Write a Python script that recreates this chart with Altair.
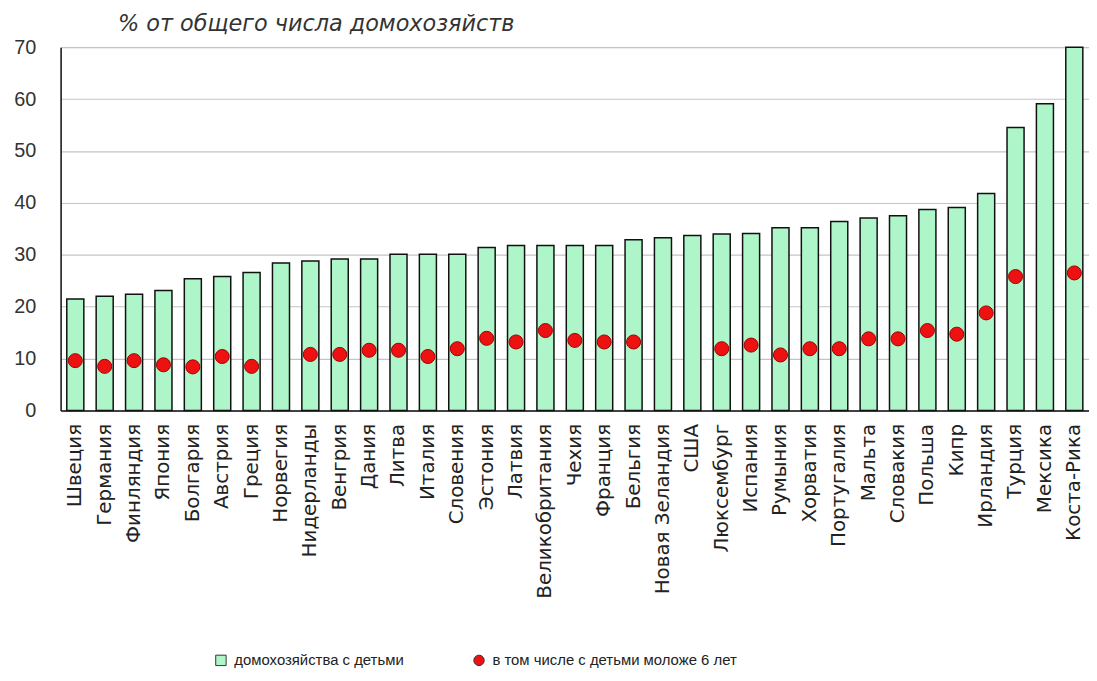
import altair as alt
import pandas as pd

countries = ["Швеция", "Германия", "Финляндия", "Япония", "Болгария", "Австрия", "Греция",
             "Норвегия", "Нидерланды", "Венгрия", "Дания", "Литва", "Италия", "Словения",
             "Эстония", "Латвия", "Великобритания", "Чехия", "Франция", "Бельгия",
             "Новая Зеландия", "США", "Люксембург", "Испания", "Румыния", "Хорватия",
             "Португалия", "Мальта", "Словакия", "Польша", "Кипр", "Ирландия", "Турция",
             "Мексика", "Коста-Рика"]

with_children = [21.5, 22.0, 22.4, 23.1, 25.4, 25.8, 26.6,
                 28.4, 28.8, 29.2, 29.2, 30.1, 30.1, 30.1,
                 31.4, 31.8, 31.8, 31.8, 31.8, 32.9,
                 33.3, 33.7, 34.0, 34.1, 35.2, 35.2,
                 36.4, 37.1, 37.5, 38.7, 39.1, 41.8, 54.5,
                 59.1, 70.0]

under_six = [9.6, 8.5, 9.6, 8.8, 8.4, 10.4, 8.5,
             None, 10.8, 10.8, 11.6, 11.6, 10.4, 11.9,
             13.9, 13.2, 15.4, 13.5, 13.2, 13.2,
             None, None, 11.9, 12.6, 10.7, 11.9,
             11.9, 13.8, 13.8, 15.4, 14.7, 18.8, 25.8,
             None, 26.5]

series_names = ["домохозяйства с детьми", "в том числе с детьми моложе 6 лет"]
y_ticks = [0, 10, 20, 30, 40, 50, 60, 70]

bars_df = pd.DataFrame({"country": countries, "value": with_children, "series": series_names[0]})
dots_df = pd.DataFrame([
    {"country": c, "value": v, "series": series_names[1]}
    for c, v in zip(countries, under_six) if v is not None
])

color_scale = alt.Scale(domain=series_names, range=["#aef5c9", "#ee1111"])
shape_scale = alt.Scale(domain=series_names, range=["square", "circle"])

x_enc = alt.X("country:N", sort=countries, title=None,
              scale=alt.Scale(paddingInner=0.42, paddingOuter=0.21),
              axis=alt.Axis(labelAngle=-90, labelFont="DejaVu Sans", labelFontSize=20,
                            labelColor="#222", labelPadding=13, ticks=False,
                            domainColor="#111", domainWidth=1.5, grid=False,
                            labelOverlap=False))
y_enc = alt.Y("value:Q", title=None,
              scale=alt.Scale(domain=[0, 70], nice=False),
              axis=alt.Axis(values=y_ticks, labelFont="Liberation Sans", labelFontSize=20,
                            labelColor="#333", labelPadding=25, ticks=False,
                            domainColor="#111", domainWidth=1.5,
                            grid=True, gridColor="#c4c4c4", gridWidth=1.2))

legend = alt.Legend(title=None, orient="none", legendX=154, legendY=610,
                    direction="horizontal", columns=2, columnPadding=68,
                    labelFont="Liberation Sans", labelFontSize=15, labelColor="#222",
                    labelLimit=0, symbolSize=110, labelOffset=6,
                    symbolStrokeColor="#333", symbolStrokeWidth=1)

bars = alt.Chart(bars_df).mark_bar(stroke="#111", strokeWidth=1.5).encode(
    x=x_enc, y=y_enc,
    color=alt.Color("series:N", scale=color_scale, legend=legend),
)

dots = alt.Chart(dots_df).mark_point(filled=True, size=200, opacity=1,
                                     stroke="#a00000", strokeWidth=1).encode(
    x=x_enc, y=y_enc,
    color=alt.Color("series:N", scale=color_scale, legend=legend),
    shape=alt.Shape("series:N", scale=shape_scale, legend=legend),
)

chart = alt.layer(bars, dots).properties(
    width=1036, height=366,
    padding={"left": 5, "top": 2, "right": 0, "bottom": 0},
    title=alt.TitleParams("% от общего числа домохозяйств", font="DejaVu Sans", fontSize=22.5,
                          fontStyle="italic", fontWeight="normal", color="#333",
                          anchor="start", dx=105, offset=2),
).configure_view(stroke=None).configure(background="white")

chart.save("out.html", embed_options={"renderer": "svg", "actions": False})
